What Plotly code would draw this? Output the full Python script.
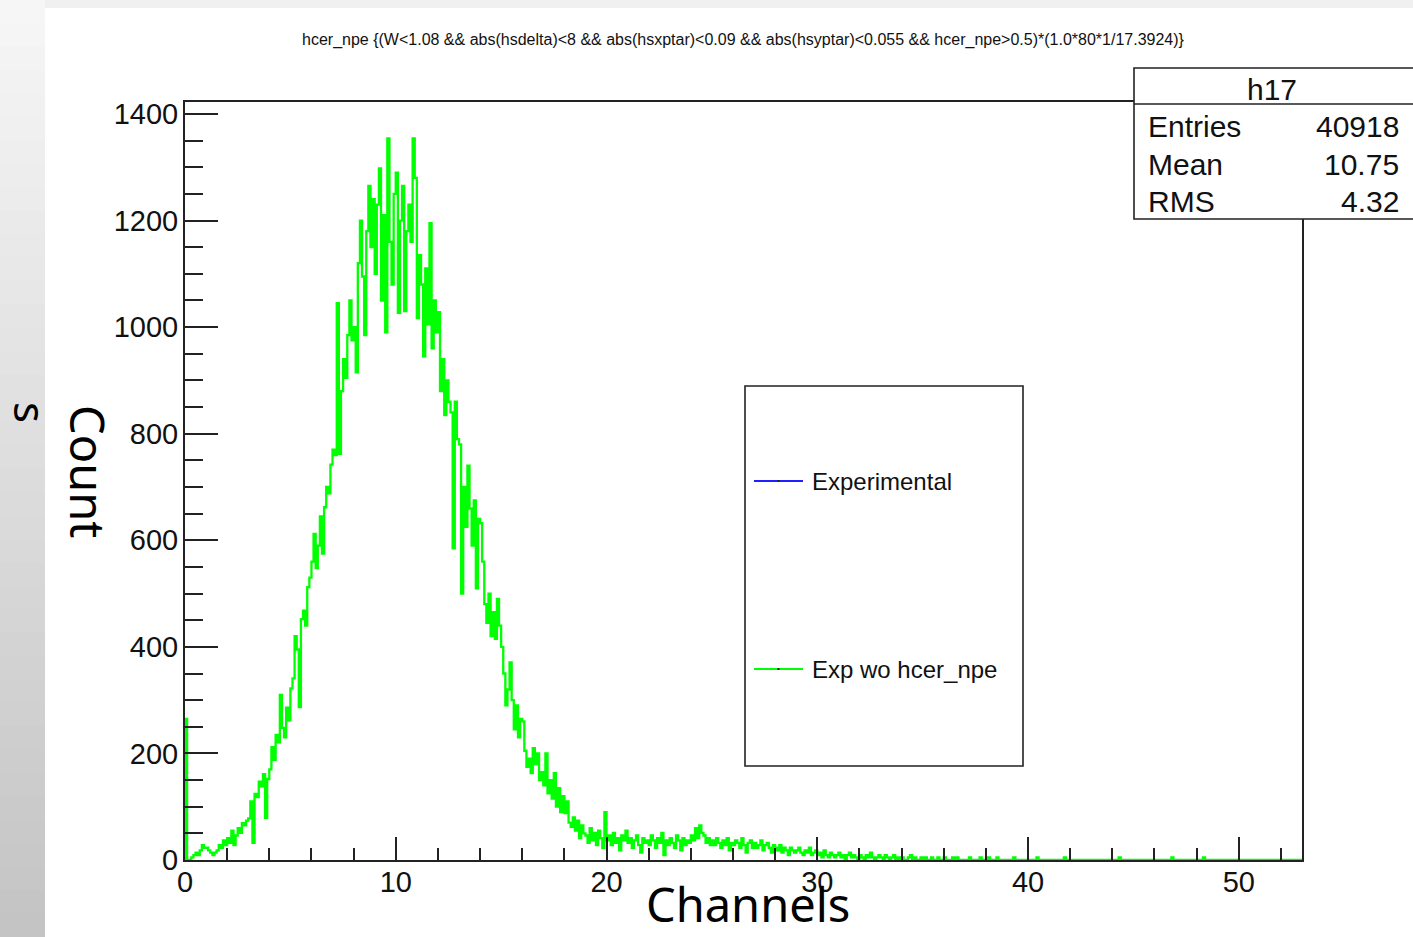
import numpy as np
import plotly.graph_objects as go

# ---------------------------------------------------------------------------
# hcer_npe histogram, bin width 0.1 channel, 0 .. 53 (one row = one channel)
# ---------------------------------------------------------------------------
BIN_WIDTH = 0.1
counts_rows = [
    [265, 0, 0, 5, 9, 14, 9, 18, 28, 23],                        # 0
    [23, 18, 14, 9, 14, 18, 28, 23, 37, 28],                      # 1
    [41, 32, 55, 28, 46, 60, 51, 69, 65, 74],                     # 2
    [78, 110, 32, 124, 118, 147, 138, 161, 79, 152],              # 3
    [170, 212, 188, 235, 221, 310, 248, 230, 286, 262],           # 4
    [322, 341, 420, 395, 287, 452, 468, 440, 512, 530],           # 5
    [560, 612, 548, 590, 645, 575, 662, 700, 688, 742],           # 6
    [770, 760, 1045, 762, 880, 940, 905, 985, 1050, 975],         # 7
    [1000, 915, 1120, 1200, 1095, 985, 1180, 1265, 1150, 1240],   # 8
    [1100, 1230, 1298, 1050, 1210, 990, 1354, 1160, 1080, 1250],  # 9
    [1290, 1027, 1200, 1265, 1030, 1180, 1230, 1160, 1354, 1280], # 10
    [1017, 1135, 1080, 945, 1110, 1005, 1195, 960, 1050, 990],    # 11
    [1028, 880, 940, 835, 900, 860, 840, 585, 860, 790],          # 12
    [780, 500, 700, 625, 740, 660, 590, 675, 510, 640],           # 13
    [632, 560, 480, 445, 500, 420, 465, 415, 490, 440],           # 14
    [400, 350, 290, 320, 371, 300, 245, 290, 230, 265],           # 15
    [260, 205, 175, 190, 163, 210, 180, 200, 150, 165],           # 16
    [140, 200, 125, 150, 115, 163, 100, 135, 90, 120],            # 17
    [88, 110, 70, 62, 80, 55, 74, 41, 65, 50],                    # 18
    [46, 32, 60, 37, 51, 28, 55, 41, 23, 90],                     # 19
    [37, 46, 28, 51, 32, 41, 18, 46, 37, 55],                     # 20
    [32, 41, 23, 37, 46, 28, 14, 41, 32, 37],                     # 21
    [28, 46, 37, 23, 41, 32, 51, 9, 37, 28],                      # 22
    [41, 32, 23, 46, 37, 18, 41, 28, 37, 32],                     # 23
    [46, 37, 60, 41, 65, 51, 46, 32, 41, 28],                     # 24
    [37, 28, 41, 32, 23, 37, 28, 41, 18, 32],                     # 25
    [28, 37, 32, 23, 41, 28, 14, 32, 37, 23],                     # 26
    [32, 23, 28, 37, 18, 28, 32, 23, 14, 28],                     # 27
    [23, 18, 28, 14, 23, 18, 9, 23, 18, 14],                      # 28
    [18, 23, 14, 9, 18, 14, 23, 9, 14, 18],                       # 29
    [9, 14, 5, 18, 9, 5, 14, 9, 5, 9],                            # 30
    [14, 5, 9, 0, 9, 14, 5, 9, 5, 0],                             # 31
    [9, 5, 0, 9, 5, 14, 5, 0, 5, 9],                              # 32
    [5, 0, 9, 5, 0, 5, 9, 0, 5, 0],                               # 33
    [5, 0, 0, 5, 9, 0, 5, 0, 0, 5],                               # 34
    [0, 5, 0, 0, 5, 0, 0, 5, 0, 0],                               # 35
    [5, 0, 0, 0, 5, 0, 5, 0, 0, 0],                               # 36
    [0, 0, 5, 0, 0, 0, 0, 5, 0, 0],                               # 37
    [0, 5, 0, 0, 0, 5, 0, 0, 0, 0],                               # 38
    [0, 0, 0, 5, 0, 0, 0, 0, 0, 0],                               # 39
    [0, 0, 0, 0, 5, 0, 0, 0, 0, 0],                               # 40
    [0, 0, 0, 0, 0, 0, 0, 5, 0, 0],                               # 41
    [0, 0, 0, 0, 0, 0, 0, 0, 0, 0],                               # 42
    [0, 0, 0, 0, 0, 0, 0, 0, 0, 0],                               # 43
    [0, 0, 0, 5, 0, 0, 0, 0, 0, 0],                               # 44
    [0, 0, 0, 0, 0, 0, 0, 0, 0, 0],                               # 45
    [0, 0, 0, 0, 0, 0, 0, 0, 5, 0],                               # 46
    [0, 0, 0, 0, 0, 0, 0, 0, 0, 0],                               # 47
    [0, 0, 0, 5, 0, 0, 0, 0, 0, 0],                               # 48
    [0, 0, 0, 0, 0, 0, 0, 0, 0, 0],                               # 49
    [0, 0, 0, 0, 0, 0, 0, 0, 0, 0],                               # 50
    [0, 0, 0, 0, 0, 0, 0, 0, 0, 0],                               # 51
    [0, 0, 0, 0, 0, 0, 0, 0, 0, 0],                               # 52
]

x_tick_values = [0, 10, 20, 30, 40, 50]
y_tick_values = [0, 200, 400, 600, 800, 1000, 1200, 1400]

stats_labels = ["Entries", "Mean", "RMS"]
stats_values = ["40918", "10.75", "4.32"]
legend_labels = ["Experimental", "Exp wo hcer_npe"]
legend_colors = ["#1f1fff", "#00ff00"]

title_text = ("hcer_npe {(W<1.08 && abs(hsdelta)<8 && abs(hsxptar)<0.09 && "
              "abs(hsyptar)<0.055 && hcer_npe>0.5)*(1.0*80*1/17.3924)}")

# ---------------------------------------------------------------------------
W, H = 1413, 937
L, R, T, B = 185, 1302, 102, 860          # frame of the pad in pixels


def px(x):
    return (x - L) / (R - L)


def py(y):
    return (B - y) / (B - T)


counts = np.array([v for row in counts_rows for v in row], dtype=float)
edges = np.arange(len(counts) + 1) * BIN_WIDTH

# step outline starting from the baseline like a ROOT histogram
xs = np.concatenate([[0.0], edges[:-1], [edges[-1]]])
ys = np.concatenate([[0.0], counts, [counts[-1]]])

fig = go.Figure()
fig.add_trace(go.Scatter(
    x=xs, y=ys, mode="lines",
    line=dict(color="#00ff00", width=2.3, shape="hv"),
    showlegend=False, hoverinfo="skip",
))

axis_font = dict(family="Liberation Sans, Arial, sans-serif", size=29, color="#111")

fig.update_layout(
    width=W, height=H,
    margin=dict(l=L, r=W - R, t=T, b=H - B, pad=0),
    paper_bgcolor="white", plot_bgcolor="white",
    showlegend=False,
    xaxis=dict(
        range=[0, 53], tickvals=x_tick_values, ticks="inside", ticklen=23,
        tickwidth=2, tickcolor="#222", showline=True, linecolor="#222",
        linewidth=2, mirror=True, showgrid=False, zeroline=False,
        tickfont=axis_font, ticklabelstandoff=-5,
        minor=dict(dtick=2, ticks="inside", ticklen=12, tickwidth=2,
                   tickcolor="#222", showgrid=False),
    ),
    yaxis=dict(
        range=[0, 1422.5], tickvals=y_tick_values, ticks="inside", ticklen=33,
        tickwidth=2, tickcolor="#222", showline=True, linecolor="#222",
        linewidth=2, mirror=True, showgrid=False, zeroline=False,
        tickfont=axis_font, ticklabelstandoff=-1,
        minor=dict(dtick=50, ticks="inside", ticklen=18, tickwidth=2,
                   tickcolor="#222", showgrid=False),
    ),
)

shapes = []
annotations = []

# slide background: grey gradient strip on the left and a faint band on top
n_bands = 40
for i in range(n_bands):
    y0 = i * H / n_bands
    y1 = (i + 1) * H / n_bands + 1
    g = int(round(246 - (246 - 196) * i / (n_bands - 1)))
    shapes.append(dict(type="rect", xref="paper", yref="paper",
                       x0=px(0), x1=px(45), y0=py(y1), y1=py(y0),
                       fillcolor=f"rgb({g},{g},{g})", line=dict(width=0),
                       layer="below"))
shapes.append(dict(type="rect", xref="paper", yref="paper",
                   x0=px(45), x1=px(W), y0=py(8), y1=py(0),
                   fillcolor="rgb(240,240,240)", line=dict(width=0),
                   layer="below"))

# legend box
shapes.append(dict(type="rect", xref="paper", yref="paper",
                   x0=px(745), x1=px(1023), y0=py(766), y1=py(386),
                   fillcolor="white", line=dict(color="#222", width=1.6)))
for label, color, ly in zip(legend_labels, legend_colors, [481, 669]):
    shapes.append(dict(type="line", xref="paper", yref="paper",
                       x0=px(754), x1=px(803), y0=py(ly), y1=py(ly),
                       line=dict(color=color, width=2)))
    shapes.append(dict(type="rect", xref="paper", yref="paper",
                       x0=px(777.5), x1=px(779.5), y0=py(ly + 1), y1=py(ly - 1),
                       fillcolor="#222", line=dict(width=0)))
    annotations.append(dict(x=px(810), y=py(ly), xref="paper", yref="paper",
                            text=label, showarrow=False, xanchor="left",
                            yanchor="middle",
                            font=dict(family="Liberation Sans, Arial, sans-serif",
                                      size=24, color="#111")))

# statistics box
shapes.append(dict(type="rect", xref="paper", yref="paper",
                   x0=px(1134), x1=px(1425), y0=py(219), y1=py(68),
                   fillcolor="white", line=dict(color="#222", width=1.6)))
shapes.append(dict(type="line", xref="paper", yref="paper",
                   x0=px(1134), x1=px(1425), y0=py(104), y1=py(104),
                   line=dict(color="#222", width=1.6)))
stats_font = dict(family="Liberation Sans, Arial, sans-serif", size=30, color="#111")
annotations.append(dict(x=px(1272), y=py(89), xref="paper", yref="paper",
                        text="h17", showarrow=False, xanchor="center",
                        yanchor="middle", font=stats_font))
for label, value, sy in zip(stats_labels, stats_values, [126, 164, 201]):
    annotations.append(dict(x=px(1146), y=py(sy), xref="paper", yref="paper",
                            text=label, showarrow=False, xanchor="left",
                            yanchor="middle", font=stats_font))
    annotations.append(dict(x=px(1401), y=py(sy), xref="paper", yref="paper",
                            text=value, showarrow=False, xanchor="right",
                            yanchor="middle", font=stats_font))

# histogram title
annotations.append(dict(x=px(743), y=py(40), xref="paper", yref="paper",
                        text=title_text.replace("<", "&lt;").replace(">", "&gt;"),
                        showarrow=False, xanchor="center", yanchor="middle",
                        font=dict(family="Liberation Sans, Arial, sans-serif",
                                  size=16, color="#111")))

# axis captions
caption_font = dict(family="Noto Sans, Open Sans, sans-serif", size=47, color="black")
annotations.append(dict(x=px(748), y=py(904), xref="paper", yref="paper",
                        text="Channels", showarrow=False, xanchor="center",
                        yanchor="middle", font=caption_font))
annotations.append(dict(x=px(88), y=py(471), xref="paper", yref="paper",
                        text="Count", showarrow=False, xanchor="center",
                        yanchor="middle", textangle=90, font=caption_font))
annotations.append(dict(x=px(31), y=py(412), xref="paper", yref="paper",
                        text="s", showarrow=False, xanchor="center",
                        yanchor="middle", textangle=90,
                        font=dict(family="Noto Sans, Open Sans, sans-serif",
                                  size=44, color="black")))

fig.update_layout(shapes=shapes, annotations=annotations)
fig.write_html("out.html")
